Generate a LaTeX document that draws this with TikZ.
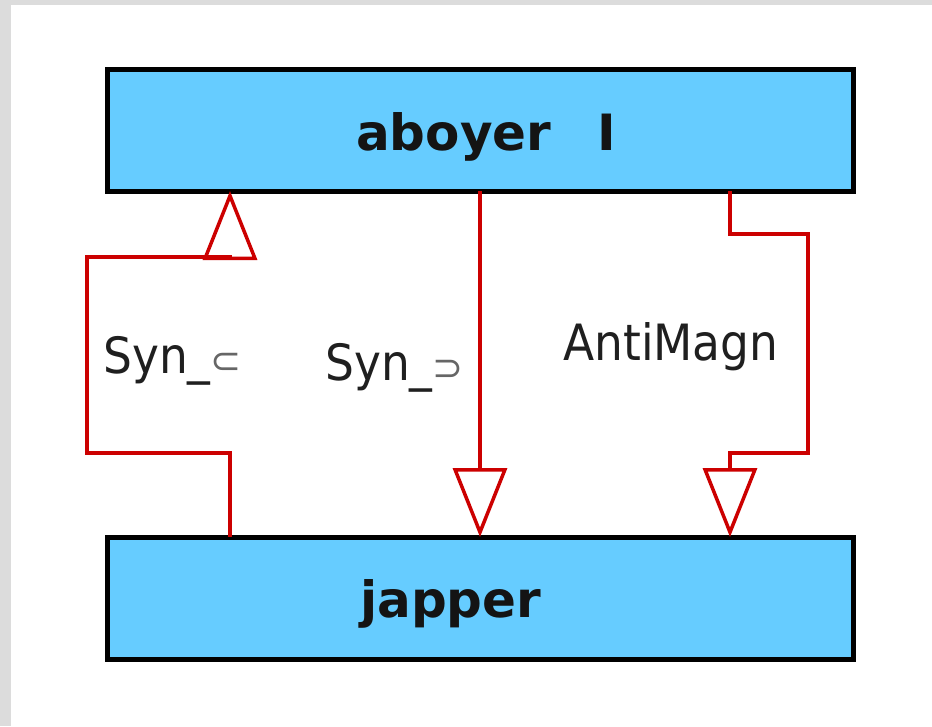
\documentclass[tikz,border=0pt]{standalone}
\usepackage{fontspec}
\setmainfont{DejaVu Sans}
\newfontfamily\labfont{DejaVu Sans}[FakeStretch=0.91]
\newfontfamily\symfont{DejaVu Sans}
\usetikzlibrary{arrows.meta}
\definecolor{boxblue}{HTML}{66CCFF}
\definecolor{connred}{HTML}{CC0000}
\definecolor{framegray}{HTML}{DCDCDC}
\tikzset{
  lexbox/.style={draw=black, line width=5pt, fill=boxblue, minimum width=746pt, minimum height=122pt, inner sep=0pt, outer sep=0pt},
  boxtext/.style={anchor=base west, inner sep=0pt, font=\fontsize{50}{60}\selectfont\bfseries, text=black!92},
  labtext/.style={anchor=base west, inner sep=0pt, font=\fontsize{50}{60}\selectfont\labfont, text=black!88},
  conn/.style={draw=connred, line width=3.5pt, line join=miter, -{Triangle[open, length=69pt, width=54pt]}},
}
\newcommand{\smsym}[1]{{\fontsize{37}{40}\selectfont\symfont\textcolor{black!60}{#1}}}
\begin{document}
\begin{tikzpicture}[x=1pt,y=-1pt]
\useasboundingbox (0,0) rectangle (932,726);
\fill[framegray] (0,0) rectangle (932,726);
\fill[white] (11,5) rectangle (932,726);
\node[lexbox] (top) at (480,130) {};
\node[lexbox] (bot) at (480,598) {};
\node[boxtext] (toptext) at (356,150) {aboyer\hspace{46pt}I};
\node[boxtext] (bottext) at (360,617) {japper};
% connector 1 (Syn sub)
\coordinate (a1) at (230,453);
\coordinate (a2) at (87,453);
\coordinate (a3) at (87,257);
\coordinate (a4) at (230,257);
\draw[conn] ([xshift=-250pt]bot.north) -- (a1) -- (a2) -- (a3) -- (a4) -- ([xshift=-250pt]top.south);
% connector 2 (Syn sup)
\draw[conn] (top.south) -- (bot.north);
% connector 3 (AntiMagn)
\coordinate (b1) at (730,234);
\coordinate (b2) at (808,234);
\coordinate (b3) at (808,453);
\coordinate (b4) at (730,453);
\draw[conn] ([xshift=250pt]top.south) -- (b1) -- (b2) -- (b3) -- (b4) -- ([xshift=250pt]bot.north);
\node[labtext] (l1) at (103,373) {Syn\_\smsym{⊂}};
\node[labtext] (l2) at (325,380) {Syn\_\smsym{⊃}};
\node[labtext] (l3) at (563,360) {AntiMagn};
\end{tikzpicture}
\end{document}
